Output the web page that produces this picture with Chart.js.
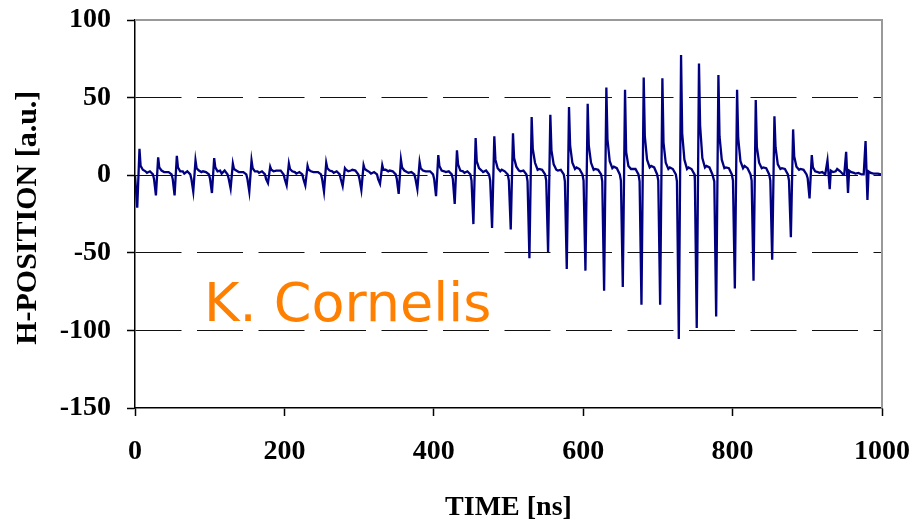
<!DOCTYPE html>
<html lang="en">
<head>
<meta charset="UTF-8">
<title>H-POSITION vs TIME</title>
<script src="https://cdn.jsdelivr.net/npm/chart.js"></script>
<style>
    body {
        margin: 0;
        background: #ffffff;
    }
    .wrap {
        position: relative;
        width: 915px;
        height: 524px;
    }
    .signature {
        position: absolute;
        left: 204px;
        top: 276px;
        font-family: "DejaVu Sans", sans-serif;
        font-size: 54px;
        line-height: 54px;
        color: #ff8000;
        white-space: nowrap;
    }
</style>
</head>
<body>
<div class="wrap">
    <canvas id="chart" width="915" height="524"></canvas>
    <div class="signature">K. Cornelis</div>
</div>
<script>
// one entry per bunch passage: time of the negative and positive spike [ns]
const lowTimes  = [3, 28, 53, 78, 103, 128, 153, 178, 203, 228, 253, 278, 303, 328, 353, 378, 403, 428, 453, 478,
                   503, 528, 553, 578, 603, 628, 653, 678, 703, 728, 752, 778, 803, 828, 853, 878, 903, 930, 954.5, 980.5];
const highTimes = [6, 31, 56, 81, 106, 131, 156, 181, 206, 231, 256, 281, 306, 331, 356, 381, 406, 431, 456, 481,
                   506, 531, 556, 581, 606, 631, 656, 681, 706, 731, 755, 781, 806, 831, 856, 881, 906, 927, 952, 978];
// spike extremes [a.u.]
const lowValues  = [-21, -13, -13, -10.5, -11.5, -8.5, -10.5, -5, -6.5, -6.5, -10.5, -7, -9.5, -5.5, -12, -9, -13.5, -18.5, -31.5, -34,
                    -35, -53.5, -49.5, -60.5, -61.5, -74.5, -72, -83.5, -83.5, -105.5, -98.5, -91, -73, -68, -54.5, -40, -15, -9, -11.5, -16];
const highValues = [17, 11.5, 12.5, 9.5, 11, 7.5, 9.5, 5.5, 7.5, 6, 8, 4.5, 6.5, 6.5, 10, 8.5, 13, 16, 24, 25,
                    27, 37.5, 39, 44, 46, 56.5, 55, 63, 62.5, 77.5, 72, 64.5, 55, 48.5, 38, 29.5, 13, 9.5, 15, 22];
// ringing after each spike: knee, settle, bump and tail levels, and the dip just before it
const kneeValues   = [6, 5, 5, 4.5, 5, 4, 4.5, 3.5, 4, 3.5, 4.5, 3.5, 4, 3.5, 5, 4.5, 6, 7, 9, 10,
                      11, 17, 16, 19, 19, 23, 15, 25, 21, 27, 32, 25, 24, 18, 18, 12, 5, 3, 3, 2.5];
const settleValues = [3.5, 3, 2.5, 3, 2.5, 3, 2.5, 2.5, 2.5, 2.5, 3, 2.5, 3, 3.5, 3, 3, 3, 3, 4.5, 4.5,
                      5.5, 8, 7, 8, 8, 9, 6, 10, 8, 10, 11, 10, 9, 8, 7, 5.5, 2.5, 2, 2, 1.5];
const bumpValues   = [1.5, 2, 1, 2.5, 1, 2, 1.5, 3, 1, 2, 1.5, 3.5, 1, 3, 1.5, 2.5, 2, 1.5, 2, 3.5,
                      2.5, 4, 3, 5, 4, 5.5, 4, 6, 5, 5, 6, 5, 6, 5, 4.5, 4, 1.5, 4, 1, 1];
const tailValues   = [2.5, 2, 2.5, 2, 3, 2, 2.5, 3, 2, 2, 2.5, 3, 2, 2.5, 2, 2.5, 2.5, 2.5, 3, 2.5,
                      3, 3.5, 3.5, 4, 3.5, 4.5, 4, 5, 4, 4, 5, 4.5, 4.5, 4.5, 4, 3.5, 2, 2.5, 1.5, 1];
const dipValues    = [0, -2.5, -2.5, -2.5, -2.5, -2.5, -2.5, -2.5, -2.5, -2.5, -2.5, -2.5, -2.5, -2.5, -2.5, -2.5, -2.5, -2.5, -3.5, -3.5,
                      -3.5, -4, -3.5, -4, -3.5, -4, -3.5, -4, -3.5, -4, -3.5, -4, -3.5, -3.5, -3.5, -3.5, -2, 0.5, 0.5, 0.5];

const xTicks = [0, 200, 400, 600, 800, 1000];
const yTicks = [-150, -100, -50, 0, 50, 100];

// build the trace from the pulse tables
const trace = [{x: 0, y: 0}];
for (let k = 0; k < lowTimes.length; k++) {
    const first = Math.min(lowTimes[k], highTimes[k]);
    const last = Math.max(lowTimes[k], highTimes[k]);
    const spike = [
        {x: lowTimes[k], y: lowValues[k]},
        {x: highTimes[k], y: highValues[k]}
    ].sort((a, b) => a.x - b.x);
    trace.push({x: first - 2.5, y: dipValues[k]});
    trace.push(...spike);
    trace.push({x: last + 1.5, y: kneeValues[k]});
    trace.push({x: last + 4.5, y: settleValues[k]});
    trace.push({x: last + 8, y: tailValues[k]});
    trace.push({x: last + 10, y: bumpValues[k]});
    trace.push({x: last + 14, y: tailValues[k]});
    trace.push({x: last + 18, y: 0.5});
}
trace.push({x: 1000, y: 0.5});

// grey frame on top and right of the plot area
const framePlugin = {
    id: 'frame',
    afterDraw(chart) {
        const {ctx, chartArea: a} = chart;
        ctx.save();
        ctx.strokeStyle = '#999999';
        ctx.lineWidth = 2;
        ctx.beginPath();
        ctx.moveTo(a.left, a.top);
        ctx.lineTo(a.right, a.top);
        ctx.lineTo(a.right, a.bottom);
        ctx.stroke();
        ctx.restore();
    }
};

const tickFont = {family: 'Liberation Serif', size: 28, weight: 'bold', lineHeight: 1};

new Chart(document.getElementById('chart'), {
    type: 'line',
    data: {
        datasets: [{
            data: trace,
            borderColor: '#000080',
            borderWidth: 2.3,
            pointRadius: 0,
            tension: 0,
            fill: false
        }]
    },
    options: {
        responsive: false,
        animation: false,
        devicePixelRatio: 1,
        layout: {padding: {top: 20, right: 33, left: 0, bottom: 0}},
        plugins: {legend: {display: false}, tooltip: {enabled: false}},
        scales: {
            x: {
                type: 'linear',
                min: 0,
                max: 1000,
                afterBuildTicks: s => { s.ticks = xTicks.map(v => ({value: v})); },
                afterFit: s => { s.height = 116; s.paddingLeft = 0; s.paddingRight = 0; },
                ticks: {color: '#000', font: tickFont, padding: 22, maxRotation: 0, callback: v => String(v)},
                grid: {drawOnChartArea: false, drawTicks: true, tickLength: 8, tickColor: '#000', tickWidth: 1.5},
                border: {display: true, color: '#000', width: 1.5},
                title: {display: true, text: 'TIME [ns]', color: '#000',
                        font: {family: 'Liberation Serif', size: 28, weight: 'bold', lineHeight: 1},
                        padding: {top: 0, bottom: 2}}
            },
            y: {
                type: 'linear',
                min: -150,
                max: 100,
                afterBuildTicks: s => { s.ticks = yTicks.map(v => ({value: v})); },
                afterFit: s => { s.width = 135; s.paddingTop = 0; s.paddingBottom = 0; },
                ticks: {color: '#000', font: tickFont, padding: 16, callback: v => String(v)},
                grid: {
                    drawOnChartArea: true,
                    drawTicks: true,
                    tickLength: 8,
                    tickColor: '#000',
                    tickWidth: 1.5,
                    lineWidth: 1,
                    color: c => (c.tick && (c.tick.value === 100 || c.tick.value === -150)) ? 'rgba(0,0,0,0)' : '#111111'
                },
                border: {display: true, color: '#000', width: 1.5, dash: [46, 15.5]},
                // trailing space nudges the rotated title a few px down, like the original
                title: {display: true, text: 'H-POSITION [a.u.] ', color: '#000',
                        font: {family: 'Liberation Serif', size: 30, weight: 'bold', lineHeight: 1},
                        padding: {top: 13, bottom: 0}}
            }
        }
    },
    plugins: [framePlugin]
});
</script>
</body>
</html>
